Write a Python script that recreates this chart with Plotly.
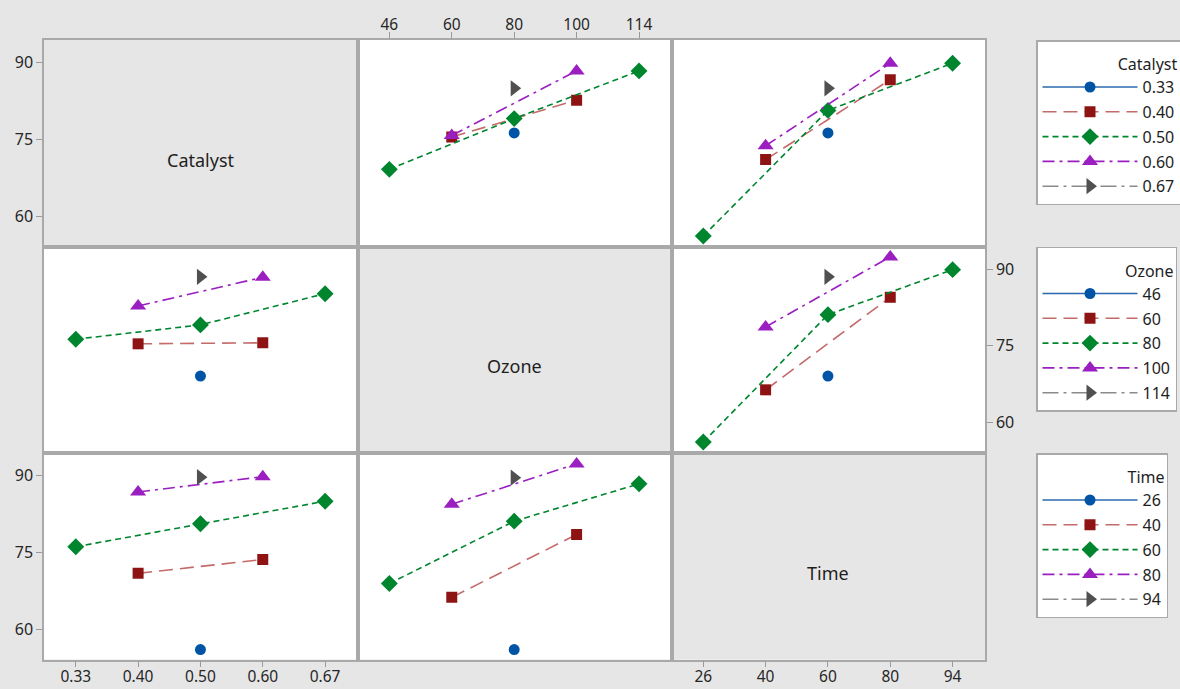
import plotly.graph_objects as go

factors = ["Catalyst", "Ozone", "Time"]
catalyst_levels = ["0.33", "0.40", "0.50", "0.60", "0.67"]
ozone_levels = ["46", "60", "80", "100", "114"]
time_levels = ["26", "40", "60", "80", "94"]

# Mean response; rows = levels of the trace factor, columns = levels of the x factor (None = no runs)
catalyst_by_ozone = [
    [None, None, 76.2, None, None],
    [None, 75.4, None, 82.6, None],
    [69.1, None, 79.0, None, 88.3],
    [None, 75.7, None, 88.3, None],
    [None, None, 84.9, None, None],
]
catalyst_by_time = [
    [None, None, 76.2, None, None],
    [None, 71.0, None, 86.6, None],
    [56.1, None, 80.6, None, 89.8],
    [None, 73.7, None, 89.8, None],
    [None, None, 84.9, None, None],
]
ozone_by_catalyst = [
    [None, None, 69.1, None, None],
    [None, 75.4, None, 75.6, None],
    [76.3, None, 79.1, None, 85.2],
    [None, 82.8, None, 88.4, None],
    [None, None, 88.5, None, None],
]
ozone_by_time = [
    [None, None, 69.1, None, None],
    [None, 66.4, None, 84.5, None],
    [56.2, None, 81.1, None, 89.9],
    [None, 78.7, None, 92.4, None],
    [None, None, 88.5, None, None],
]
time_by_catalyst = [
    [None, None, 56.0, None, None],
    [None, 70.9, None, 73.6, None],
    [76.1, None, 80.6, None, 85.0],
    [None, 86.8, None, 89.8, None],
    [None, None, 89.7, None, None],
]
time_by_ozone = [
    [None, None, 56.0, None, None],
    [None, 66.2, None, 78.5, None],
    [68.9, None, 81.1, None, 88.4],
    [None, 84.4, None, 92.3, None],
    [None, None, 89.6, None, None],
]
y_ticks = [60, 75, 90]

levels_of = {"Catalyst": catalyst_levels, "Ozone": ozone_levels, "Time": time_levels}
panels = {
    (0, 1): catalyst_by_ozone, (0, 2): catalyst_by_time,
    (1, 0): ozone_by_catalyst, (1, 2): ozone_by_time,
    (2, 0): time_by_catalyst, (2, 1): time_by_ozone,
}

marker_colors = ["#0054a6", "#8e1414", "#00852f", "#9a1ec0", "#505050"]
line_colors = ["#2a68b0", "#c46a6a", "#00852f", "#9a1ec0", "#8a8a8a"]
symbols = ["circle", "square", "diamond", "triangle-up", "triangle-right"]
marker_sizes = [11, 11, 13, 14, 14]
dashes = ["solid", "14px,7px", "6px,4px", "12px,5px,3px,5px", "16px,5px,3px,5px"]

FONT = "Noto Sans"
BG = "#e6e6e6"
BORDER = "#a9a9a9"
TXT = "#262626"
W, H = 1180, 689
X_EDGES = [44, 357.5, 671.5, 985]
Y_EDGES = [39.5, 246.5, 453, 659.5]


def axis_ids(k):
    return ("x" if k == 1 else f"x{k}"), ("y" if k == 1 else f"y{k}")


fig = go.Figure()

# empty traces so the diagonal (label) panels are created
for d in range(3):
    xa, ya = axis_ids(d * 3 + d + 1)
    fig.add_trace(go.Scatter(x=[], y=[], xaxis=xa, yaxis=ya, showlegend=False,
                             hoverinfo="skip"))

first_col = {0: 1, 1: 0, 2: 0}
for (r, c), data in panels.items():
    xa, ya = axis_ids(r * 3 + c + 1)
    trace_levels = levels_of[factors[r]]
    for i, row in enumerate(data):
        xs = [j for j, v in enumerate(row) if v is not None]
        ys = [v for v in row if v is not None]
        fig.add_trace(go.Scatter(
            x=xs, y=ys, xaxis=xa, yaxis=ya, mode="lines+markers",
            name=trace_levels[i],
            legend="legend" if r == 0 else f"legend{r + 1}",
            legendgroup=f"{factors[r]}-{trace_levels[i]}",
            showlegend=(c == first_col[r]),
            line=dict(color=line_colors[i], width=1.6, dash=dashes[i]),
            marker=dict(color=marker_colors[i], symbol=symbols[i],
                        size=marker_sizes[i], line=dict(width=0)),
            hoverinfo="x+y+name",
        ))

layout = dict(
    width=W, height=H,
    margin=dict(l=0, r=0, t=0, b=0, autoexpand=False),
    paper_bgcolor=BG, plot_bgcolor="white",
    font=dict(family=FONT, color=TXT, size=16),
    shapes=[], annotations=[],
)

for r in range(3):
    for c in range(3):
        k = r * 3 + c + 1
        xr, yr = axis_ids(k)
        xkey = "xaxis" if k == 1 else f"xaxis{k}"
        ykey = "yaxis" if k == 1 else f"yaxis{k}"
        xlev = levels_of[factors[c]]
        xd = [X_EDGES[c] / W, X_EDGES[c + 1] / W]
        yd = [1 - Y_EDGES[r + 1] / H, 1 - Y_EDGES[r] / H]
        show_x = (r == 0 and c == 1) or (r == 2 and c in (0, 2))
        show_y = (c == 0 and r in (0, 2)) or (r == 1 and c == 2)
        layout[xkey] = dict(
            domain=xd, anchor=yr,
            range=[-0.51, 4.52], tickmode="array",
            tickvals=list(range(len(xlev))), ticktext=xlev,
            showgrid=False, zeroline=False,
            showline=True, mirror=True, linecolor=BORDER, linewidth=1.5,
            ticks="outside" if show_x else "", ticklen=6, tickcolor="#9a9a9a",
            showticklabels=show_x, side="top" if r == 0 else "bottom",
            tickfont=dict(size=15.5, color=TXT), ticklabelstandoff=-4,
        )
        layout[ykey] = dict(
            domain=yd, anchor=xr,
            range=[54.05, 94.43], tickmode="array", tickvals=y_ticks,
            showgrid=False, zeroline=False,
            showline=True, mirror=True, linecolor=BORDER, linewidth=1.5,
            ticks="outside" if show_y else "", ticklen=6, tickcolor="#9a9a9a",
            showticklabels=show_y, side="right" if c == 2 else "left",
            tickfont=dict(size=16, color=TXT),
        )
        if r == c:
            layout["shapes"].append(dict(
                type="rect", xref=f"{xr} domain", yref=f"{yr} domain",
                x0=0, x1=1, y0=0, y1=1, fillcolor=BG, line=dict(width=0),
                layer="below"))
            layout["annotations"].append(dict(
                text=factors[r], xref=f"{xr} domain", yref=f"{yr} domain",
                x=0.5, y=0.42, showarrow=False,
                font=dict(size=18, color="#1e1e1e", family=FONT)))

legend_tops = [40, 246.5, 453]
for n in range(3):
    key = "legend" if n == 0 else f"legend{n + 1}"
    layout[key] = dict(
        x=1036 / W, y=1 - legend_tops[n] / H, xanchor="left", yanchor="top",
        bgcolor="white", bordercolor=BORDER, borderwidth=1.5,
        title=dict(text=f"<span style='font-size:16px'>{factors[n]}</span>",
                   side="top right",
                   font=dict(size=22, color="#1e1e1e", family=FONT)),
        font=dict(size=16, color="#1e1e1e", family=FONT),
        itemwidth=95, tracegroupgap=1, itemclick=False, itemdoubleclick=False,
    )

fig.update_layout(**layout)
fig.write_html(
    "out.html",
    config={"displayModeBar": False},
    post_script="document.body.style.margin='0';document.body.style.overflow='hidden';",
)
